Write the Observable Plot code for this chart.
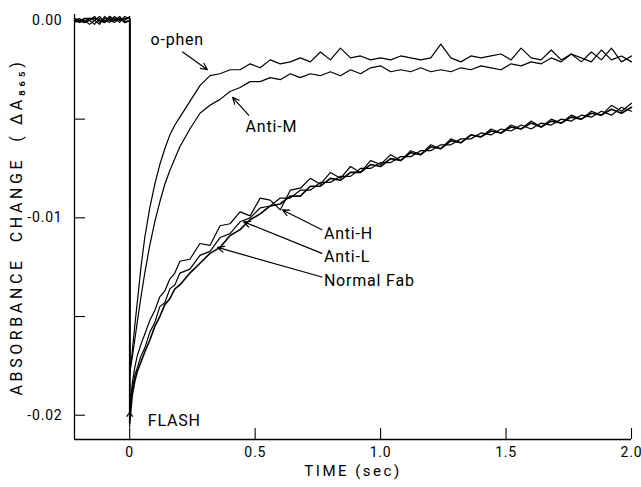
<!DOCTYPE html>
<html><head><meta charset="utf-8">
<script src="https://cdn.jsdelivr.net/npm/d3@7"></script>
<script src="https://cdn.jsdelivr.net/npm/@observablehq/plot@0.6"></script>
<style>
body{margin:0;background:#fff;}
#chart svg text{letter-spacing:0.8px;}
</style></head><body><div id="chart"></div>
<script>
const time = [-0.22,-0.20,-0.18,-0.16,-0.14,-0.12,-0.10,-0.08,-0.06,-0.04,-0.02,0.00,
  0.00,0.01,0.02,0.03,0.045,0.06,0.08,0.10,0.12,0.14,0.16,0.18,
  0.20,0.24,0.28,0.32,0.36,0.40,0.44,0.48,0.52,0.56,
  0.60,0.64,0.68,0.72,0.76,0.80,0.84,0.88,0.92,0.96,
  1.00,1.04,1.08,1.12,1.16,1.20,1.24,1.28,1.32,1.36,
  1.40,1.44,1.48,1.52,1.56,1.60,1.64,1.68,1.72,1.76,
  1.80,1.84,1.88,1.92,1.96,2.00];

const ophen = [0.0000,0.0001,-0.0001,0.0000,0.0002,-0.0001,0.0001,0.0000,0.0002,0.0000,0.0001,0.0001,
  -0.0180,-0.0168,-0.0155,-0.0143,-0.0125,-0.0110,-0.0095,-0.0083,-0.0073,-0.0065,-0.0058,-0.0053,
  -0.0049,-0.0041,-0.0033,-0.0028,-0.0027,-0.0025,-0.0025,-0.0022,-0.0024,-0.0020,
  -0.0022,-0.0021,-0.0019,-0.0021,-0.0016,-0.0020,-0.0014,-0.0019,-0.0018,-0.0020,
  -0.0019,-0.0020,-0.0018,-0.0019,-0.0020,-0.0019,-0.0012,-0.0019,-0.0021,-0.0018,
  -0.0019,-0.0018,-0.0017,-0.0020,-0.0014,-0.0019,-0.0020,-0.0015,-0.0020,-0.0017,
  -0.0021,-0.0016,-0.0020,-0.0014,-0.0021,-0.0018];

const antiM = [0.0001,-0.0001,0.0000,-0.0002,0.0000,0.0002,-0.0001,0.0001,0.0000,0.0002,-0.0001,0.0000,
  -0.0178,-0.0171,-0.0162,-0.0153,-0.0140,-0.0128,-0.0114,-0.0102,-0.0092,-0.0083,-0.0076,-0.0070,
  -0.0064,-0.0055,-0.0047,-0.0043,-0.0040,-0.0036,-0.0034,-0.0031,-0.0031,-0.0029,
  -0.0030,-0.0027,-0.0029,-0.0027,-0.0028,-0.0026,-0.0028,-0.0025,-0.0027,-0.0024,
  -0.0023,-0.0026,-0.0025,-0.0026,-0.0024,-0.0026,-0.0025,-0.0026,-0.0024,-0.0025,
  -0.0023,-0.0024,-0.0025,-0.0022,-0.0023,-0.0021,-0.0022,-0.0019,-0.0021,-0.0017,
  -0.0019,-0.0021,-0.0015,-0.0020,-0.0018,-0.0021];

const antiH = [-0.0001,0.0000,0.0001,0.0000,-0.0002,0.0001,0.0000,-0.0001,0.0001,-0.0001,0.0002,0.0001,
  -0.0199,-0.0184,-0.0176,-0.0170,-0.0164,-0.0159,-0.0152,-0.0147,-0.0140,-0.0137,-0.0131,-0.0128,
  -0.0122,-0.0121,-0.0113,-0.0114,-0.0104,-0.0103,-0.0097,-0.0099,-0.0090,-0.0091,
  -0.0096,-0.0086,-0.0085,-0.0080,-0.0083,-0.0077,-0.0080,-0.0074,-0.0077,-0.0071,
  -0.0073,-0.0068,-0.0071,-0.0066,-0.0068,-0.0063,-0.0065,-0.0060,-0.0062,-0.0058,
  -0.0059,-0.0055,-0.0057,-0.0053,-0.0055,-0.0051,-0.0054,-0.0050,-0.0052,-0.0048,
  -0.0050,-0.0046,-0.0048,-0.0043,-0.0046,-0.0042];

const antiL = [0.0000,-0.0001,0.0001,0.0001,0.0000,-0.0002,0.0002,0.0000,-0.0001,0.0001,0.0000,0.0002,
  -0.0193,-0.0187,-0.0180,-0.0176,-0.0170,-0.0166,-0.0158,-0.0153,-0.0145,-0.0143,-0.0136,-0.0134,
  -0.0128,-0.0126,-0.0119,-0.0117,-0.0110,-0.0108,-0.0102,-0.0100,-0.0095,-0.0094,
  -0.0090,-0.0090,-0.0086,-0.0086,-0.0082,-0.0082,-0.0079,-0.0079,-0.0075,-0.0075,
  -0.0072,-0.0072,-0.0069,-0.0069,-0.0066,-0.0066,-0.0063,-0.0063,-0.0060,-0.0060,
  -0.0057,-0.0058,-0.0055,-0.0056,-0.0053,-0.0055,-0.0052,-0.0053,-0.0050,-0.0051,
  -0.0048,-0.0049,-0.0046,-0.0048,-0.0044,-0.0046];

const normalFab = [0.0001,0.0000,-0.0001,0.0001,0.0001,0.0000,-0.0001,0.0002,0.0000,0.0001,-0.0001,0.0000,
  -0.0204,-0.0190,-0.0183,-0.0178,-0.0173,-0.0168,-0.0162,-0.0155,-0.0150,-0.0144,-0.0141,-0.0136,
  -0.0134,-0.0128,-0.0123,-0.0118,-0.0115,-0.0109,-0.0106,-0.0101,-0.0098,-0.0094,
  -0.0093,-0.0089,-0.0089,-0.0084,-0.0084,-0.0080,-0.0081,-0.0077,-0.0077,-0.0073,
  -0.0074,-0.0070,-0.0071,-0.0067,-0.0068,-0.0064,-0.0065,-0.0061,-0.0062,-0.0058,
  -0.0059,-0.0056,-0.0057,-0.0054,-0.0055,-0.0052,-0.0054,-0.0051,-0.0052,-0.0049,
  -0.0050,-0.0047,-0.0048,-0.0045,-0.0047,-0.0044];

const seriesNames = ["o-phen","Anti-M","Anti-H","Anti-L","Normal Fab"];
const seriesValues = [ophen, antiM, antiH, antiL, normalFab];

const xDomain = [-0.22, 2.0];
const yDomain = [-0.02123, 0.0003];
const xTicks = [0, 0.5, 1.0, 1.5, 2.0];
const xTickLabels = ["0", "0.5", "1.0", "1.5", "2.0"];
const yTicksMajor = [0, -0.01, -0.02];
const yTickLabels = ["0.00", "-0.01", "-0.02"];
const yTicksMinor = [-0.005, -0.015];

const annLabel = ["o-phen", "Anti-M", "Anti-H", "Anti-L", "Normal Fab"];
const annTextT = [0.083, 0.462, 0.774, 0.774, 0.774];
const annTextV = [-0.0010, -0.0054, -0.0108, -0.0120, -0.0132];
const annFromT = [0.211, 0.474, 0.766, 0.766, 0.766];
const annFromV = [-0.0016, -0.0048, -0.0106, -0.0118, -0.0130];
const annToT = [0.31, 0.41, 0.609, 0.454, 0.35];
const annToV = [-0.0025, -0.0039, -0.0096, -0.0102, -0.0115];

const flashT = 0;
const flashArrowV = [-0.0206, -0.01985];
const flashTextT = 0.072;
const flashTextV = -0.0203;

const yTitle = "ABSORBANCE  CHANGE  ( \u0394A\u2088\u2086\u2085)";
const xTitle = "TIME (sec)";

const rows = [];
seriesNames.forEach((name, i) => {
  time.forEach((t, j) => rows.push({series: name, t, v: seriesValues[i][j]}));
});
const ann = annLabel.map((label, i) => ({label, tx: annTextT[i], tv: annTextV[i],
  x1: annFromT[i], y1: annFromV[i], x2: annToT[i], y2: annToV[i]}));

const font = "Roboto, 'Liberation Sans', sans-serif";
const chart = Plot.plot({
  width: 641, height: 487,
  marginLeft: 74, marginRight: 10, marginTop: 14, marginBottom: 48,
  style: {fontFamily: font, fontSize: "14px", background: "white", color: "black"},
  x: {domain: xDomain, axis: null},
  y: {domain: yDomain, axis: null},
  marks: [
    Plot.ruleX([xDomain[0]], {stroke: "black", strokeWidth: 1.3}),
    Plot.ruleY([yDomain[0]], {stroke: "black", strokeWidth: 1.3}),
    Plot.axisY(yTicksMajor.concat(yTicksMinor), {anchor: "left", tickSize: -11, tickFormat: () => "", strokeWidth: 1.1}),
    Plot.axisY(yTicksMajor, {anchor: "left", tickSize: 0, tickPadding: 12, fontSize: 14,
      tickFormat: d => yTickLabels[yTicksMajor.indexOf(d)]}),
    Plot.axisX(xTicks, {anchor: "bottom", tickSize: -11, tickFormat: () => "", strokeWidth: 1.1}),
    Plot.axisX(xTicks, {anchor: "bottom", tickSize: 0, tickPadding: 8, fontSize: 14,
      tickFormat: d => xTickLabels[xTicks.indexOf(d)]}),
    Plot.text([yTitle], {frameAnchor: "left", textAnchor: "middle", dx: -58, rotate: -90, fontSize: 16}),
    Plot.text([xTitle], {frameAnchor: "bottom", dy: 36, fontSize: 15}),
    Plot.line(rows, {x: "t", y: "v", z: "series", stroke: "black",
      strokeWidth: d => d.series === "Normal Fab" ? 1.6 : 1.2}),
    Plot.arrow(ann, {x1: "x1", y1: "y1", x2: "x2", y2: "y2", stroke: "black", strokeWidth: 1.2, headLength: 9, headAngle: 50}),
    Plot.text(ann, {x: "tx", y: "tv", text: "label", textAnchor: "start", fontSize: 16}),
    Plot.arrow([flashArrowV], {x1: flashT, x2: flashT, y1: d => d[0], y2: d => d[1], stroke: "black", strokeWidth: 1.2, headLength: 7, headAngle: 70}),
    Plot.text(["FLASH"], {x: flashTextT, y: flashTextV, text: d => d, textAnchor: "start", fontSize: 16})
  ]
});
d3.select(chart).selectAll("text")
  .filter(function() { return this.textContent === yTitle; })
  .style("letter-spacing", "3.6px").style("white-space", "pre");
d3.select(chart).selectAll("text")
  .filter(function() { return this.textContent === xTitle; })
  .style("letter-spacing", "2.5px");
document.getElementById("chart").appendChild(chart);
</script>
</body></html>
